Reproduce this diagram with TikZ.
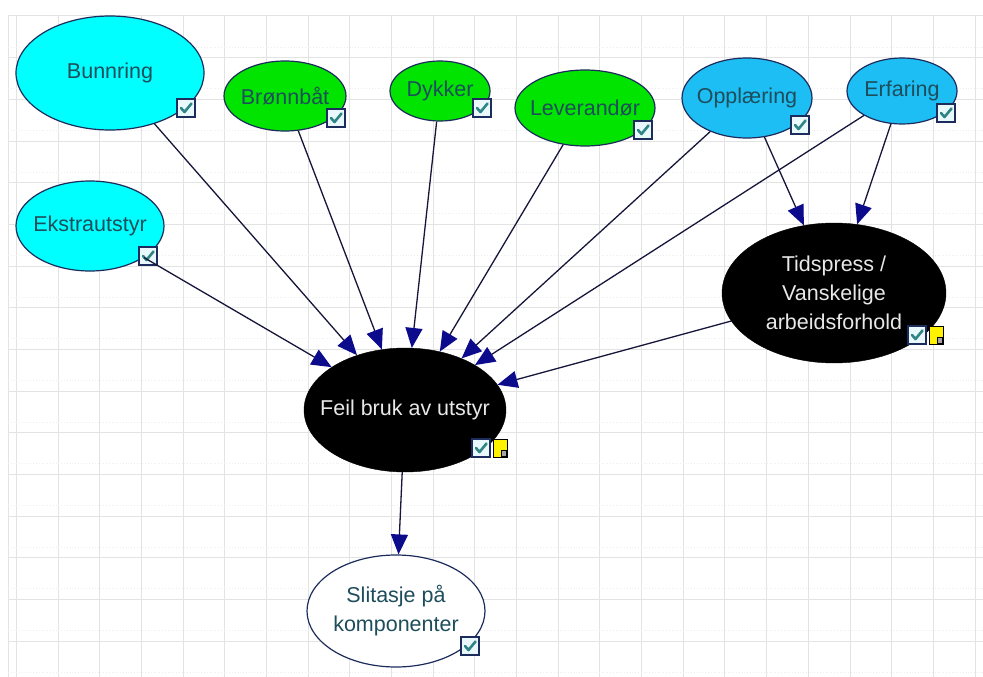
\documentclass[tikz,border=0pt]{standalone}
\usepackage{fontspec}
\setmainfont{Liberation Sans}
\usetikzlibrary{shapes.geometric,arrows.meta}

\definecolor{gridc}{HTML}{E3E3E3}
\definecolor{gridf}{HTML}{EEEEEE}
\definecolor{cyanfill}{HTML}{00FFFF}
\definecolor{greenfill}{HTML}{00E400}
\definecolor{skyfill}{HTML}{1CBEF4}
\definecolor{rim}{HTML}{1C2C5C}
\definecolor{edgec}{HTML}{16163A}
\definecolor{headc}{HTML}{0B0B8C}
\definecolor{txtdark}{HTML}{1E4D5C}
\definecolor{txtlight}{HTML}{E8E8E8}
\definecolor{tickc}{HTML}{2F8585}
\definecolor{boxfill}{HTML}{E9F8FA}

\tikzset{
  bn/.style={ellipse, draw=rim, line width=1.2pt, inner sep=0pt},
  darkbn/.style={ellipse, draw=black, fill=black, inner sep=0pt},
  lbl/.style={font=\fontsize{21.5}{29}\selectfont, align=center, text=txtdark, inner sep=0pt},
  lbllight/.style={lbl, text=txtlight},
  link/.style={draw=edgec, line width=1.3pt,
    -{Triangle[length=20pt,width=17pt,color=headc]}},
  ckbox/.pic={
    \path[fill=boxfill, draw=rim, line width=1.1pt] (-9,-9) rectangle (9,9);
    \draw[tickc, line width=2.6pt, line cap=round, line join=round]
      (-5,0) -- (-1.5,4) -- (5.5,-4.5);
  },
  notebox/.pic={
    \path[fill=yellow, draw=black, line width=1pt] (-7,-9) rectangle (7,9);
    \draw[fill=gray!70, draw=black, line width=0.8pt] (1,2) rectangle (6,8);
  }
}

\begin{document}
\begin{tikzpicture}[x=1pt, y=-1pt]
  \useasboundingbox (0,0) rectangle (983,677);
  \fill[white] (0,0) rectangle (983,677);

  % background grid
  \draw[gridc, line width=1pt] (8,15) -- (8,677);
  \foreach \i in {0,...,23}
    \draw[gridc, line width=1pt] ({16.6+41.67*\i},15) -- ({16.6+41.67*\i},677);
  \foreach \j in {0,...,15}
    \draw[gridc, line width=1pt] (8,{16+41.67*\j}) -- (983,{16+41.67*\j});
  \foreach \j in {0,...,15}
    \draw[gridf, line width=0.8pt, dotted] (8,{47+41.67*\j}) -- (983,{47+41.67*\j});

  % nodes
  \node[bn, fill=cyanfill, minimum width=188pt, minimum height=114pt,
        label={[lbl]center:Bunnring}] (bunn) at (110,73) {};
  \node[bn, fill=greenfill, minimum width=122pt, minimum height=70pt,
        label={[lbl]center:Brønnbåt}] (bronn) at (285,96) {};
  \node[bn, fill=greenfill, minimum width=100pt, minimum height=60pt,
        label={[lbl]center:Dykker}] (dykk) at (440,91) {};
  \node[bn, fill=greenfill, minimum width=140pt, minimum height=76pt,
        label={[lbl]center:Leverandør}] (lev) at (585,108) {};
  \node[bn, fill=skyfill, minimum width=130pt, minimum height=80pt,
        label={[lbl]center:Opplæring}] (oppl) at (747,98) {};
  \node[bn, fill=skyfill, minimum width=110pt, minimum height=66pt,
        label={[lbl]center:Erfaring}] (erf) at (902,91) {};
  \node[bn, fill=cyanfill, minimum width=148pt, minimum height=90pt,
        label={[lbl]center:Ekstrautstyr}] (ekst) at (90,226) {};
  \node[darkbn, minimum width=224pt, minimum height=140pt,
        label={[lbllight]center:Tidspress /\\Vanskelige\\arbeidsforhold}] (tids) at (834,293) {};
  \node[darkbn, minimum width=202pt, minimum height=124pt,
        label={[lbllight]center:Feil bruk av utstyr}] (feil) at (405,410) {};
  \node[bn, fill=white, minimum width=178pt, minimum height=112pt,
        label={[lbl]center:Slitasje på\\komponenter}] (slit) at (396,611) {};

  % status markers
  \pic at (186,108) {ckbox};
  \pic at (336,118) {ckbox};
  \pic at (482,108) {ckbox};
  \pic at (643,130) {ckbox};
  \pic at (800,125) {ckbox};
  \pic at (946,113) {ckbox};
  \pic at (148,256) {ckbox};
  \pic at (917,335) {ckbox};
  \pic at (936,335) {notebox};
  \pic at (481,448) {ckbox};
  \pic at (500,448) {notebox};
  \pic at (470,646) {ckbox};

  % dependencies
  \draw[link] (bunn) -- (feil);
  \draw[link] (ekst) -- (feil);
  \draw[link] (bronn) -- (feil);
  \draw[link] (dykk) -- (feil);
  \draw[link] (lev) -- (feil);
  \draw[link] (oppl) -- (feil);
  \draw[link] (erf) -- (feil);
  \draw[link] (tids) -- (feil);
  \draw[link] (oppl) -- (tids);
  \draw[link] (erf) -- (tids);
  \draw[link] (feil) -- (slit);
\end{tikzpicture}
\end{document}
